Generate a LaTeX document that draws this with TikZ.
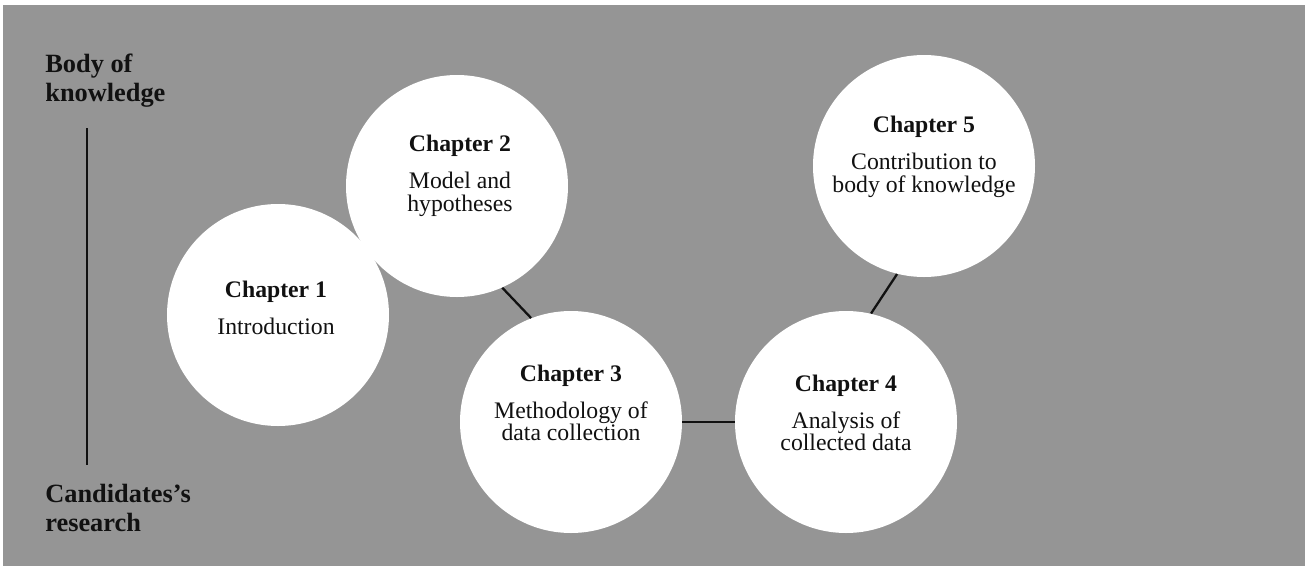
\documentclass[tikz,border=0pt]{standalone}
\usepackage{fontspec}
\setmainfont{Liberation Serif}
\usepackage{tikz}
\usepackage{xcolor}
\usetikzlibrary{positioning}
\definecolor{cInk}{HTML}{111111}
\definecolor{cShade}{HTML}{959595}
\definecolor{cPaper}{HTML}{FFFFFF}
\tikzset{
  chap/.style  ={circle,fill=cPaper,minimum size=44.4mm,inner sep=0pt},
  ctext/.style ={align=center,text=cInk,inner sep=0pt,
                 font={\fontsize{13.5}{13}\selectfont}},
  side/.style  ={align=left,anchor=north west,inner sep=0pt,text=cInk,
                 font={\fontsize{15}{16.5}\selectfont\bfseries}},
  link/.style  ={line width=1.3pt,cInk},
}

\begin{document}
\begin{tikzpicture}[x=0.2mm,y=-0.2mm]
\useasboundingbox (0,0) rectangle (1310,572);
\fill[cShade] (3,5) rectangle (1305,566);

% axis on the left
\node[side] (bok) at (45,54) {Body of\\knowledge};
\node[side] (res) at (45,484) {Candidates’s\\research};
\coordinate (vtop) at (87,128);
\coordinate (vbot) at (87,465);
\draw[link] (vtop)--(vbot);

% chapters
\node[chap] (c1) at (278,315) {};
\node[chap] (c2) at (457,186) {};
\node[chap] (c3) at (571,422) {};
\node[chap] (c4) at (846,422) {};
\node[chap] (c5) at (924,166) {};

\node[ctext] (t1) at (276,308) {\textbf{Chapter 1}\\[8pt] Introduction};
\node[ctext] (t2) at (460,176) {\textbf{Chapter 2}\\[8pt] Model and\\ hypotheses};
\node[ctext] (t3) at (571,403) {\textbf{Chapter 3}\\[8pt] Methodology of\\ data collection};
\node[ctext] (t4) at (846,413) {\textbf{Chapter 4}\\[8pt] Analysis of\\ collected data};
\node[ctext] (t5) at (924,157) {\textbf{Chapter 5}\\[8pt] Contribution to\\ body of knowledge};

\draw[link] (c2.-66)--(c3.111);
\draw[link] (c3)--(c4);
\draw[link] (c5.256)--(c4.77);
\end{tikzpicture}
\end{document}
